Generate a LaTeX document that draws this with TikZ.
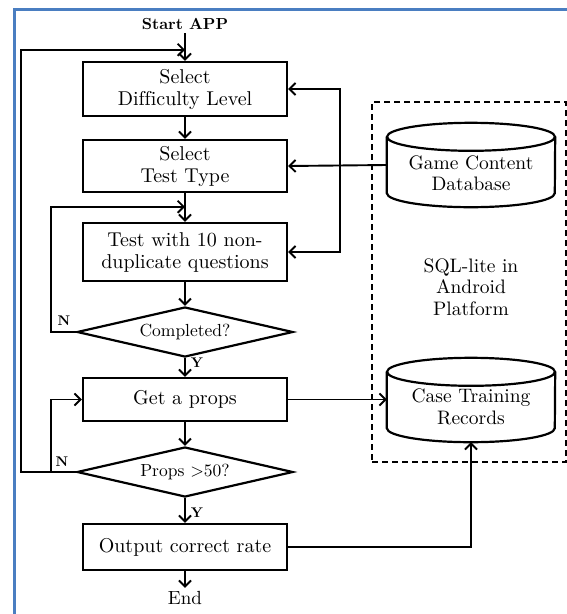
\documentclass[tikz,border=0pt]{standalone}
\usepackage{fontspec}
% the 10pt design of Latin Modern at every size, no f-ligatures
\setmainfont{lmroman10-regular.otf}[BoldFont=lmroman10-bold.otf,Ligatures=NoCommon]
\usetikzlibrary{arrows.meta,shapes.geometric,calc}
\definecolor{framebl}{RGB}{74,126,193}
\tikzset{
  flow/.style={line width=1.9pt},
  arr/.style={flow,-{Straight Barb[length=6pt,width=12pt]}},
  box/.style={draw,line width=2.4pt,minimum width=204pt,inner sep=0pt,align=center,
    font=\fontsize{20}{22}\selectfont},
  dec/.style={draw,diamond,line width=2.2pt,minimum width=216pt,minimum height=50pt,
    aspect=4.32,inner sep=0pt,font=\fontsize{17.5}{20}\selectfont},
  lbl/.style={font=\bfseries\fontsize{14}{16}\selectfont,inner sep=0pt},
  db/.style={minimum width=168pt,minimum height=84pt,inner sep=0pt},
  dbtext/.style={align=center,inner sep=0pt,font=\fontsize{19.5}{21.5}\selectfont},
}
% cylinder drawn around a node of style db
\newcommand\drawdb[1]{%
  \draw[line width=2.2pt] ($(#1.north)+(0,14)$) ellipse[x radius=84pt,y radius=14pt];
  \draw[line width=2.2pt] ($(#1.north west)+(0,14)$) -- ($(#1.south west)+(0,-14)$)
    arc[start angle=180,end angle=360,x radius=84pt,y radius=14pt]
    -- ($(#1.north east)+(0,14)$);}
\begin{document}
\begin{tikzpicture}[x=1pt,y=-1pt]
\useasboundingbox (0,0) rectangle (567,614);
% page frame
\draw[framebl,line width=3pt] (14,614) -- (14,9) -- (567,9);

% main flow
\node[font=\bfseries\fontsize{16}{18}\selectfont] (start) at (185,24) {Start APP};
\node[box,minimum height=54pt] (b1) at (185,89) {Select\\Difficulty Level};
\node[box,minimum height=52pt] (b2) at (185,166) {Select\\Test Type};
\node[box,minimum height=58pt] (b3) at (185,252) {Test with 10 non-\\duplicate questions};
\node[dec] (d1) at (185,332) {Completed?};
\node[box,minimum height=43pt] (b4) at (185,399.5) {Get a props};
\node[dec] (d2) at (185,472) {Props >50?};
\node[box,minimum height=46pt] (b5) at (185,547) {Output correct rate};
\node[font=\fontsize{19}{22}\selectfont] (end) at (185,598) {End};

\draw[arr] (start) -- (b1);
\draw[arr] (b1) -- (b2);
\draw[arr] (b2) -- (b3);
\draw[arr] (b3) -- (d1);
\draw[arr] (d1) -- (b4);
\draw[arr] (b4) -- (d2);
\draw[arr] (d2) -- (b5);
\draw[arr] (b5) -- (end);

% loop-back branches
\coordinate (j0) at ($(b1.north)+(0,-11)$);
\coordinate (j1) at ($(b3.north)+(0,-15)$);
\coordinate (nsplit) at ($(d2.west)+(-25,0)$);
\draw[arr] (d1.west) -- ++(-25,0) |- (j1);
\draw[arr] (d2.west) -- ++(-55,0) |- (j0);
\draw[arr] (nsplit) |- (b4.west);

\node[lbl] (n1) at (64,321) {N};
\node[lbl] (y1) at (197,363) {Y};
\node[lbl] (n2) at (62,462) {N};
\node[lbl] (y2) at (197,513) {Y};

% storage side
\node[draw,dashed,line width=1.6pt,dash pattern=on 6pt off 4pt,
      minimum width=194pt,minimum height=360pt,inner sep=0pt] (plat) at (469,282) {};
\node[dbtext] (sqltxt) at (471,287) {SQL-lite in\\Android\\Platform};

\node[db] (db1) at (471,165) {};
\drawdb{db1}
\node[dbtext] (db1t) at (471,173) {Game Content\\Database};

\node[db] (db2) at (471,400) {};
\drawdb{db2}
\node[dbtext] (db2t) at (471,407) {Case Training\\Records};

\coordinate (bus) at ($(b2.east)+(52,0)$);
\draw[arr] (db1.west) -- (b2.east);
\draw[arr] (bus) |- (b1.east);
\draw[arr] (bus) |- (b3.east);
\draw[arr] (b4.east) -- (b4.east -| db2.west);
\draw[arr] (b5.east) -| (db2.south);
\end{tikzpicture}
\end{document}
